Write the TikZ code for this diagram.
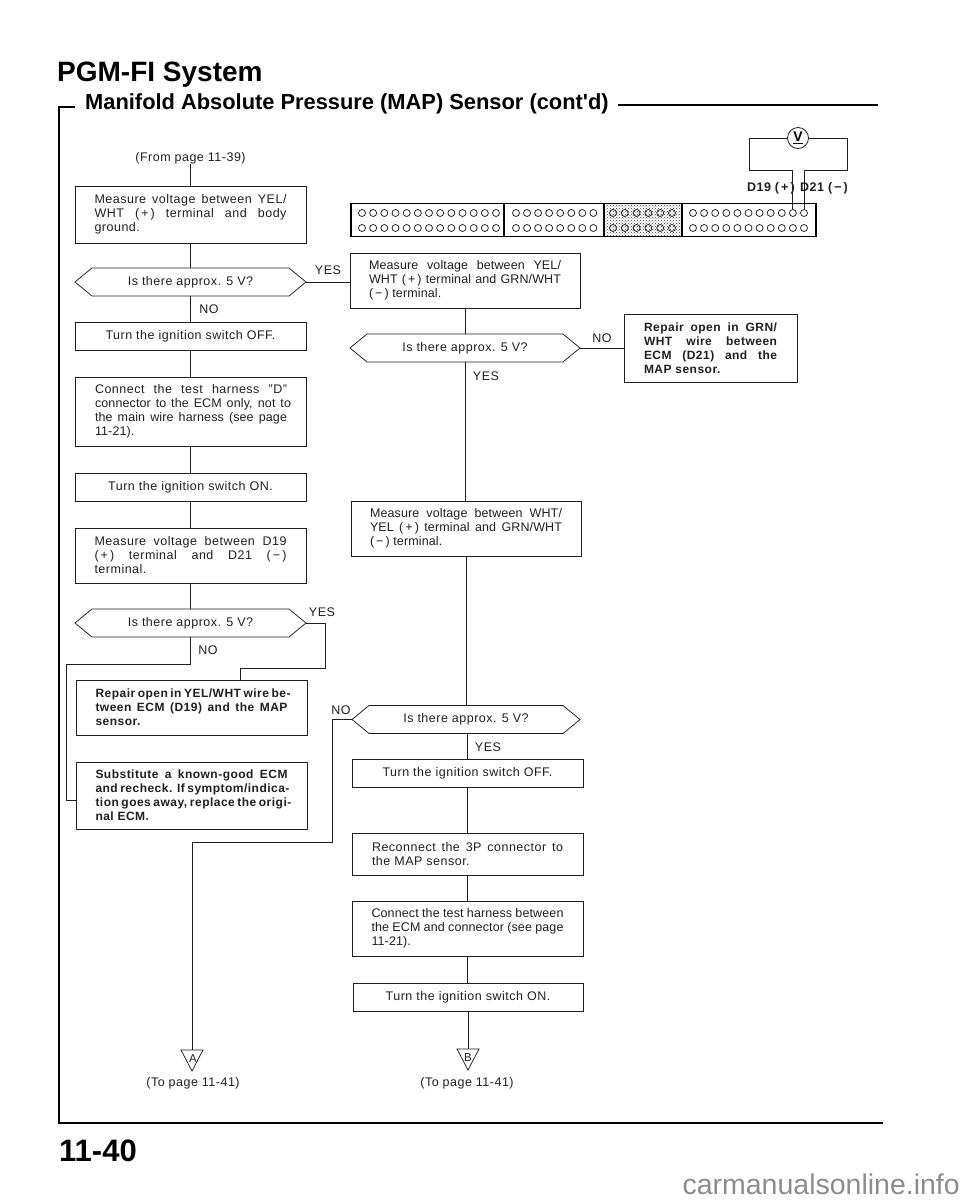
\documentclass[tikz,border=0pt]{standalone}
\usepackage{fontspec}
\setmainfont[LetterSpace=4]{Liberation Sans}
\newfontfamily\tfont{Liberation Sans}
\usetikzlibrary{patterns}
\definecolor{ink}{gray}{0.12}
\newlength{\jw}
\newcommand{\jl}[1]{\makebox[\jw][s]{#1}}
\newcommand{\tighttext}{\addfontfeature{LetterSpace=1}}
\newcommand{\boldtext}{\fontsize{12}{14}\selectfont\bfseries}
\newcommand{\bx}[6]{\node[pbox,minimum width={(#4-#2)*1pt},minimum height={(#5-#3)*1pt}] (#1) at ({(#2+#4)/2},{(#3+#5)/2}) {#6};}
\newcommand{\hx}[5]{\node[hexn,minimum width={(#3-#2)*1pt},minimum height=28pt] (#1) at ({(#2+#3)/2},#4) {#5};
 \draw[wire] (#1.west) -- ([xshift=17pt,yshift=14pt]#1.west) -- ([xshift=-17pt,yshift=14pt]#1.east) -- (#1.east) -- ([xshift=-17pt,yshift=-14pt]#1.east) -- ([xshift=17pt,yshift=-14pt]#1.west) -- cycle;}
\tikzset{
 x=1pt,y=-1pt,
 wire/.style={draw=ink,line width=0.75pt},
 frameline/.style={draw=black,line width=1.4pt},
 pbox/.style={draw=ink,line width=0.8pt,inner sep=0pt,outer sep=0pt,font=\fontsize{12.5}{14}\selectfont,text=ink,align=center},
 hexn/.style={inner sep=0pt,outer sep=0pt,font=\fontsize{12.5}{14}\selectfont,text=ink,align=center},
 lbl/.style={inner sep=0pt,font=\fontsize{12.5}{14}\selectfont,text=ink},
 pin/.style={draw=ink,line width=0.75pt,fill=none},
}
\begin{document}
\begin{tikzpicture}
\useasboundingbox (0,0) rectangle (960,1200);
% frame
\node[inner sep=0pt,anchor=west,font=\tfont\fontsize{28}{30}\selectfont\bfseries] (title) at (57,75) {PGM-FI System};
\node[inner sep=0pt,anchor=west,font=\tfont\fontsize{21.85}{24}\selectfont\bfseries] (sub) at (85,104) {Manifold Absolute Pressure (MAP) Sensor (cont'd)};
\coordinate (fa) at (75,107); \coordinate (fb) at (59,107); \coordinate (fc) at (59,1123); \coordinate (fd) at (883,1123);
\coordinate (fe) at (618,105); \coordinate (ff) at (878,105);
\draw[frameline] (fa) -- (fb) -- (fc) -- (fd);
\draw[frameline] (fe) -- (ff);
\node[inner sep=0pt,anchor=west,font=\tfont\fontsize{31}{33}\selectfont\bfseries] (pg) at (59,1151) {11-40};
\node[inner sep=0pt,anchor=east,text=black!45,font=\tfont\fontsize{28.5}{30}\selectfont] (wm) at (960,1184) {carmanualsonline.info};

% left column
\node[lbl] (from) at (190.5,158) {(From page 11-39)};
\setlength{\jw}{192pt}
\bx{L1}{75}{186}{306}{243}{\parbox{192pt}{\jl{Measure voltage between YEL/}\\\jl{WHT (\,+\,) terminal and body}\\ground.}}
\hx{H1}{75}{306}{282}{Is there approx. 5 V?}
\bx{L2}{75}{322}{306}{350}{Turn the ignition switch OFF.}
\bx{L3}{75}{377}{306}{446}{\hspace*{5pt}\parbox{196pt}{\setlength{\jw}{192pt}\jl{Connect the test harness ''D''}\\\tighttext\setlength{\jw}{196pt}\jl{connector to the ECM only, not to}\\\setlength{\jw}{192pt}\jl{the main wire harness (see page}\\11-21).}}
\bx{L4}{75}{473}{306}{501}{Turn the ignition switch ON.}
\bx{L5}{75}{528}{306}{583}{\parbox{192pt}{\jl{Measure voltage between D19}\\\jl{(\,+\,) terminal and D21 (\,−\,)}\\terminal.}}
\hx{H2}{75}{306}{623}{Is there approx. 5 V?}
\bx{L6}{76}{680}{307}{735}{\parbox{192pt}{\boldtext\jl{Repair open in YEL/WHT wire be-}\\\jl{tween ECM (D19) and the MAP}\\sensor.}}
\bx{L7}{76}{762}{307}{829}{\parbox{192pt}{\boldtext\jl{Substitute a known-good ECM}\\\jl{and recheck. If symptom/indica-}\\\jl{tion goes away, replace the origi-}\\nal ECM.}}

% right column
\bx{R1}{350}{253}{580}{308}{\parbox{192pt}{\tighttext\jl{Measure voltage between YEL/}\\\jl{WHT (\,+\,) terminal and GRN/WHT}\\(\,−\,) terminal.}}
\hx{H3}{350}{580}{348}{Is there approx. 5 V?}
\bx{R2}{624}{314}{797}{382}{\parbox{133pt}{\boldtext\setlength{\jw}{133pt}\jl{Repair open in GRN/}\\\jl{WHT wire between}\\\jl{ECM (D21) and the}\\MAP sensor.}}
\bx{R3}{351}{501}{581}{556}{\parbox{192pt}{\tighttext\jl{Measure voltage between WHT/}\\\jl{YEL (\,+\,) terminal and GRN/WHT}\\(\,−\,) terminal.}}
\hx{H4}{352}{580}{719.5}{Is there approx. 5 V?}
\bx{R4}{352}{759}{583}{787}{Turn the ignition switch OFF.}
\bx{R5}{352}{833}{583}{875}{\parbox{191pt}{\setlength{\jw}{191pt}\jl{Reconnect the 3P connector to}\\the MAP sensor.}}
\bx{R6}{352}{901}{583}{956}{\parbox{192pt}{\tighttext\jl{Connect the test harness between}\\\jl{the ECM and connector (see page}\\11-21).}}
\bx{R7}{353}{983}{583}{1011}{Turn the ignition switch ON.}

% connector
\coordinate (c1) at (351,203.5); \coordinate (c2) at (816,236.5);
\node[inner sep=0pt,outer sep=0pt,minimum width=78pt,minimum height=33pt,pattern=crosshatch dots,pattern color=black!75] (hatch) at (643,220) {};
\draw[line width=1.3pt,draw=black] (c1) rectangle (c2);
\coordinate (s1) at (504,203.5); \coordinate (s2) at (604,203.5); \coordinate (s3) at (682,203.5);
\foreach \s in {s1,s2,s3} \draw[line width=1.3pt,draw=black] (\s) -- (\s |- c2);
\foreach \y in {213,228}{
 \foreach \i in {0,...,12} \draw[pin] ({362+\i*11.17},\y) circle (3.5);
 \foreach \i in {0,...,7} \draw[pin] ({516+\i*11.05},\y) circle (3.5);
 \foreach \i in {0,...,5} \draw[pin] ({613+\i*11.8},\y) circle (3.5);
 \foreach \i in {0,...,10} \draw[pin] ({693+\i*11.1},\y) circle (3.5);
}
% meter
\node[circle,draw=ink,line width=0.8pt,minimum size=21pt,inner sep=0pt,font=\tfont\fontsize{14}{14}\selectfont\bfseries] (vm) at (798,138) {\underline{V}};
\coordinate (m1) at (749,138); \coordinate (m2) at (749,170); \coordinate (m3) at (792,170); \coordinate (m4) at (792,209);
\coordinate (m5) at (847,138); \coordinate (m6) at (847,170); \coordinate (m7) at (804,170); \coordinate (m8) at (804,209);
\draw[wire] (vm) -- (m1) -- (m2) -- (m3) -- (m4);
\draw[wire] (vm) -- (m5) -- (m6) -- (m7) -- (m8);
\node[inner sep=0pt,anchor=east,font=\fontsize{12.5}{13}\selectfont\bfseries,text=ink] (dl) at (795,188) {D19 (\,+\,)};
\node[inner sep=0pt,anchor=west,font=\fontsize{12.5}{13}\selectfont\bfseries,text=ink] (dr) at (800,188) {D21 (\,−\,)};

% labels
\node[lbl] (y1) at (328,270) {YES};
\node[lbl] (n1) at (209,309) {NO};
\node[lbl] (y2) at (322,612) {YES};
\node[lbl] (n2) at (208,650) {NO};
\node[lbl] (n3) at (602,338) {NO};
\node[lbl] (y3) at (486,376) {YES};
\node[lbl] (n4) at (341,710) {NO};
\node[lbl] (y4) at (488,747) {YES};

% connectors
\draw[wire] (from) -- (L1.north -| from);
\draw[wire] (L1) -- (H1);
\draw[wire] (H1) -- (L2);
\draw[wire] (L2) -- (L3);
\draw[wire] (L3) -- (L4);
\draw[wire] (L4) -- (L5);
\draw[wire] (L5) -- (H2);
\draw[wire] (H1.east) -- (R1.west |- H1.east);
\draw[wire] (R1) -- (H3);
\draw[wire] (H3.east) -- (R2.west |- H3.east);
\draw[wire] (H3.south) -- (R3.north -| H3.south);
\draw[wire] (R3) -- (H4);
\draw[wire] (H4.south -| R4.north) -- (R4.north);
\draw[wire] (R4) -- (R5);
\draw[wire] (R5) -- (R6);
\draw[wire] (R6) -- (R7.north -| R6.south);
\coordinate (a1) at (325,668); \coordinate (a2) at (240,668);
\draw[wire] (H2.east) -| (a1) -- (a2) -- (L6.north -| a2);
\coordinate (b1) at (190.5,664); \coordinate (b2) at (66,664); \coordinate (b3) at (66,800);
\draw[wire] (H2.south) -- (b1) -- (b2) -- (b3) -- (L7.west |- b3);
\coordinate (d1) at (332,719.5); \coordinate (d2) at (332,842); \coordinate (d3) at (192,842);
\coordinate (ta) at (192,1050); \coordinate (tb) at (468,1049);
\draw[wire] (H4.west) -- (d1) -- (d2) -- (d3) -- (ta);
\draw[wire] (R7.south -| tb) -- (tb);
% triangles
\draw[wire] ([xshift=-11pt]ta) -- ([xshift=11pt]ta) -- ([yshift=-21pt]ta) -- cycle;
\draw[wire] ([xshift=-11pt]tb) -- ([xshift=11pt]tb) -- ([yshift=-21pt]tb) -- cycle;
\node[lbl,font=\fontsize{11.5}{12}\selectfont] (la) at (193,1059) {A};
\node[lbl,font=\fontsize{11.5}{12}\selectfont] (lb) at (468,1058) {B};
\node[lbl] (ta1) at (193,1083) {(To page 11-41)};
\node[lbl] (tb1) at (467,1083) {(To page 11-41)};
\end{tikzpicture}
\end{document}
